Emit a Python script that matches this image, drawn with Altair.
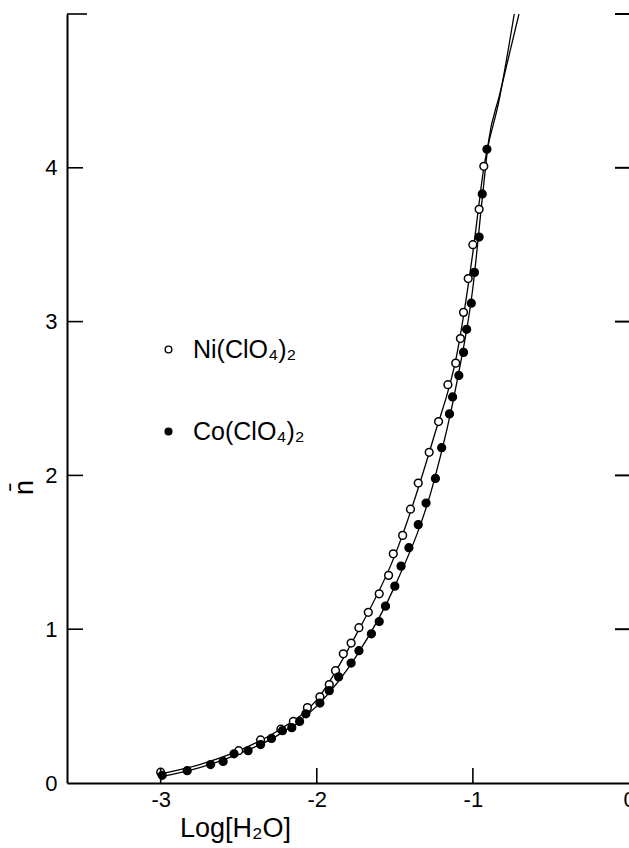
import altair as alt
import pandas as pd

# ---- data ----
NI = "Ni(ClO₄)₂"
CO = "Co(ClO₄)₂"

ni_x = [-3.00, -2.50, -2.36, -2.23, -2.15, -2.06, -1.98, -1.92, -1.88, -1.83, -1.78, -1.73,
        -1.67, -1.60, -1.54, -1.51, -1.45, -1.40, -1.35, -1.28, -1.22, -1.16, -1.11, -1.08,
        -1.06, -1.03, -1.00, -0.96, -0.93]
ni_y = [0.07, 0.21, 0.28, 0.35, 0.40, 0.49, 0.56, 0.64, 0.73, 0.84, 0.91, 1.01,
        1.11, 1.23, 1.35, 1.49, 1.61, 1.78, 1.95, 2.15, 2.35, 2.59, 2.73, 2.89,
        3.06, 3.28, 3.50, 3.73, 4.01]

co_x = [-2.99, -2.83, -2.68, -2.60, -2.53, -2.44, -2.36, -2.29, -2.22, -2.16, -2.11, -2.07,
        -1.98, -1.92, -1.86, -1.78, -1.73, -1.65, -1.60, -1.56, -1.50, -1.46, -1.41, -1.35,
        -1.30, -1.24, -1.20, -1.15, -1.13, -1.09, -1.06, -1.04, -1.01, -0.99, -0.96, -0.94, -0.91]
co_y = [0.05, 0.08, 0.12, 0.14, 0.19, 0.21, 0.25, 0.29, 0.34, 0.36, 0.40, 0.45,
        0.52, 0.60, 0.69, 0.78, 0.86, 0.97, 1.05, 1.15, 1.28, 1.41, 1.53, 1.68,
        1.82, 1.98, 2.18, 2.40, 2.51, 2.65, 2.80, 2.95, 3.12, 3.32, 3.55, 3.83, 4.12]

# fitted curves (vertices)
ni_curve_x = [-3.00, -2.75, -2.50, -2.25, -2.00, -1.75, -1.50, -1.25, -1.10, -1.00, -0.93, -0.83, -0.735]
ni_curve_y = [0.06, 0.12, 0.21, 0.34, 0.54, 0.96, 1.48, 2.25, 2.80, 3.45, 4.00, 4.45, 5.00]
co_curve_x = [-3.00, -2.75, -2.50, -2.25, -2.00, -1.75, -1.50, -1.25, -1.10, -1.00, -0.94, -0.90, -0.83, -0.705]
co_curve_y = [0.04, 0.10, 0.19, 0.31, 0.50, 0.82, 1.28, 1.96, 2.62, 3.22, 3.80, 4.17, 4.47, 5.00]

x_ticks = [-3, -2, -1, 0]
y_ticks = [0, 1, 2, 3, 4]
x_inner_ticks = [-3, -2, -1]
y_inner_ticks = [1, 2, 3, 4]

# ---- tables ----
pts = pd.concat([
    pd.DataFrame({"x": ni_x, "y": ni_y, "series": NI}),
    pd.DataFrame({"x": co_x, "y": co_y, "series": CO}),
])
curves = pd.concat([
    pd.DataFrame({"x": ni_curve_x, "y": ni_curve_y, "series": NI}),
    pd.DataFrame({"x": co_curve_x, "y": co_curve_y, "series": CO}),
])

W, H = 562, 769
FONT = "Liberation Sans"

xscale = alt.Scale(domain=[-3.6, 0], nice=False, zero=False)
yscale = alt.Scale(domain=[0, 5], nice=False, zero=False)

x_axis = alt.Axis(values=x_ticks, ticks=False, grid=False, domainColor="black", domainWidth=2,
                  labelFontSize=22, labelFont=FONT, labelColor="black", labelPadding=6,
                  labelExpr="datum.value == 0 ? '0' : '-' + abs(datum.value)",
                  title="Log[H₂O]", titleFont=FONT, titleFontSize=27, titleFontWeight="normal",
                  titleColor="black", titleX=168, titleY=53, titleAlign="center",
                  titleBaseline="alphabetic", labelFlush=False)
y_axis = alt.Axis(values=y_ticks, ticks=False, grid=False, domainColor="black", domainWidth=2,
                  format="d",
                  labelFontSize=22, labelFont=FONT, labelColor="black", labelPadding=10,
                  title="n\u0304", titleFont=FONT, titleFontSize=27, titleFontWeight="normal",
                  titleColor="black", titleX=-43, titleY=473, titleAngle=270,
                  titleAlign="center", titleBaseline="middle")

lines = alt.Chart(curves).mark_line(color="black", strokeWidth=1.3, interpolate="monotone",
                                    clip=True).encode(
    x=alt.X("x:Q", scale=xscale, axis=x_axis),
    y=alt.Y("y:Q", scale=yscale, axis=y_axis),
    detail="series:N",
)

points = alt.Chart(pts).mark_circle(stroke="black", strokeWidth=1.5, opacity=1, size=60).encode(
    x=alt.X("x:Q", scale=xscale),
    y=alt.Y("y:Q", scale=yscale),
    fill=alt.Fill("series:N", scale=alt.Scale(domain=[NI, CO], range=["white", "black"]),
                  legend=alt.Legend(orient="none", legendX=89, legendY=323, title=None,
                                    labelFontSize=25, labelFont=FONT, labelColor="black",
                                    labelOffset=12, rowPadding=56, padding=0,
                                    symbolType="circle", symbolSize=45,
                                    symbolStrokeColor="black", symbolStrokeWidth=1.4)),
)

bottom_ticks = alt.Chart(pd.DataFrame({"x": x_inner_ticks})).mark_rule(
    color="black", strokeWidth=1.6).encode(
    x=alt.X("x:Q", scale=xscale), y=alt.value(H - 15), y2=alt.value(H))
left_ticks = alt.Chart(pd.DataFrame({"y": y_inner_ticks})).mark_rule(
    color="black", strokeWidth=1.6).encode(
    y=alt.Y("y:Q", scale=yscale), x=alt.value(0), x2=alt.value(16))
right_ticks = alt.Chart(pd.DataFrame({"y": y_inner_ticks})).mark_rule(
    color="black", strokeWidth=2).encode(
    y=alt.Y("y:Q", scale=yscale), x=alt.value(W - 14), x2=alt.value(W))
top_left = alt.Chart(pd.DataFrame({"y": [5]})).mark_rule(color="black", strokeWidth=1.6).encode(
    y=alt.Y("y:Q", scale=yscale), x=alt.value(0), x2=alt.value(20))
top_right = alt.Chart(pd.DataFrame({"y": [5]})).mark_rule(color="black", strokeWidth=2).encode(
    y=alt.Y("y:Q", scale=yscale), x=alt.value(W - 14), x2=alt.value(W))

chart = alt.layer(lines, points, bottom_ticks, left_ticks, right_ticks, top_left, top_right).properties(
    width=W, height=H,
    autosize=alt.AutoSizeParams(type="none"),
    padding={"left": 67, "top": 14, "right": 0, "bottom": 65},
    background="white",
).configure_view(stroke=None)

chart.save("out.html", embed_options={"renderer": "svg", "actions": False})
